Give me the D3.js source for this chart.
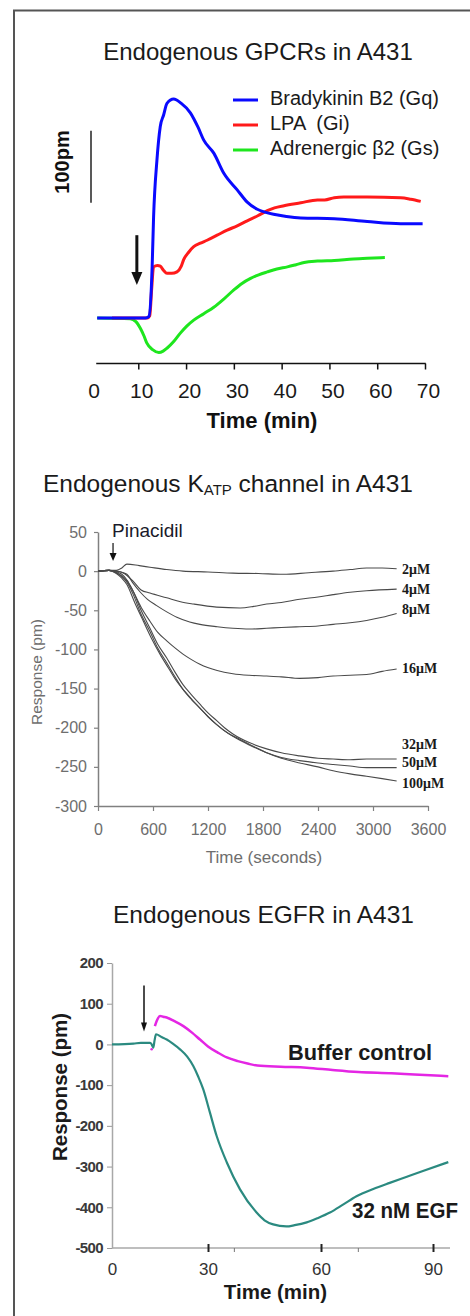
<!DOCTYPE html>
<html>
<head>
<meta charset="utf-8">
<script src="https://cdn.jsdelivr.net/npm/d3@7"></script>
<style>
  body { margin: 0; background: #fff; }
  svg { display: block; font-family: "Liberation Sans", Arial, sans-serif; }
</style>
</head>
<body>
<svg id="chart" width="470" height="1316"></svg>
<script>
// ---- panel 1: GPCRs, [time (min), response (pm)]
const gpcrTicks = [0, 10, 20, 30, 40, 50, 60, 70];
const bradykinin = [[1.4,0],[8,0],[11.5,0],[12.2,2],[12.9,71],[13.2,140],[13.9,219],[14.6,266],[15.3,282],[16,298],[17.4,304],[19,298],[20.9,285],[22.5,265],[23.7,247],[25.8,229],[27.9,201],[30.7,178],[32.8,161],[34.9,151],[36.5,147],[38.3,144],[41,141],[44,139],[51,138],[57.9,134],[64.9,131],[69.5,131]];
const lpa = [[4.5,0],[11.9,0],[12.4,3],[12.8,40],[13.2,71],[14,73],[14.6,72],[15.3,66],[16,62],[17,62],[18.1,64],[19,72],[19.5,81],[20.5,91],[21.6,99],[23,104],[24.4,108],[26.5,115],[28.6,122],[30.7,128],[32.8,135],[35,142],[37,149],[38.5,153],[40.5,156],[44,160],[47.5,164],[49,164],[51,167],[53,168],[57.9,168],[64.9,167],[67,165],[69.1,162]];
const adrenergic = [[1.4,0],[8.3,-1],[9.5,-5],[10.4,-14],[11.2,-25],[11.8,-35],[13,-44],[14.3,-48],[15.2,-46],[16,-42],[17.5,-32],[18.8,-21],[20.2,-11],[21.6,-3],[23.7,6],[25.8,15],[28,27],[30,39],[31.7,48],[33.5,55],[35.2,60],[37,64],[39,68],[41.2,71],[43,74],[44.7,77],[47.5,79],[51,80],[55,82],[57.9,83],[61.6,84]];
const gpcrNames = ["Bradykinin B2 (Gq)", "LPA  (Gi)", "Adrenergic \u03b22 (Gs)"];
const gpcrColors = ["#0a0aff", "#ff1a1a", "#1ee61e"];
const gpcrArrow = { t: 9.7, from: 115, to: 46 };
const scaleBar = [160, 260];

// ---- panel 2: KATP, [time (s), response (pm)]
const katpXTicks = [0, 600, 1200, 1800, 2400, 3000, 3600];
const katpYTicks = [-300, -250, -200, -150, -100, -50, 0, 50];
const katpLabels = ["2\u03bcM", "4\u03bcM", "8\u03bcM", "16\u03bcM", "32\u03bcM", "50\u03bcM", "100\u03bcM"];
const katpLabelY = [2, -24, -49, -124, -221, -245, -271];
const c2 = [[0,0],[120,1],[200,1],[260,4],[315,9],[450,7],[567,5],[750,2],[927,0],[1200,-1],[1472,-2.5],[1750,-3],[2018,-4],[2300,-2],[2563,0],[2750,2],[2930,4],[3100,4],[3258,3]];
const c4 = [[0,0],[120,1],[200,0],[270,-2],[385,-13],[470,-24],[567,-28],[750,-34],[900,-39],[1040,-42],[1295,-46],[1550,-47],[1700,-45],[1840,-42],[2000,-40],[2200,-36],[2400,-33],[2565,-30],[2750,-27],[2930,-25],[3258,-23]];
const c8 = [[0,0],[120,1],[200,0],[250,-1],[315,-4],[380,-15],[455,-26],[540,-36],[640,-44],[750,-52],[860,-59],[1000,-65],[1112,-68],[1300,-71],[1472,-73],[1650,-74],[1840,-73],[2000,-72],[2200,-71],[2400,-70],[2565,-68],[2750,-66],[2930,-63],[3100,-59],[3258,-54]];
const c16 = [[0,0],[120,1],[200,-1],[260,-4],[320,-12],[385,-26],[470,-46],[567,-64],[650,-78],[750,-89],[850,-99],[927,-106],[1020,-113],[1112,-119],[1300,-127],[1472,-131],[1650,-133],[1840,-134],[2000,-135],[2200,-137],[2400,-136],[2565,-134],[2750,-133],[2930,-132],[3100,-128],[3258,-125]];
const c32 = [[0,0],[120,1],[200,-2],[260,-6],[320,-13],[385,-26],[470,-50],[567,-73],[650,-93],[750,-111],[840,-129],[927,-145],[1020,-158],[1112,-170],[1200,-181],[1295,-191],[1380,-200],[1472,-208],[1650,-219],[1840,-227],[2000,-232],[2200,-236],[2400,-239],[2565,-240],[2750,-241],[2930,-240],[3100,-240],[3258,-240]];
const c50 = [[0,0],[120,1],[200,-2],[260,-7],[320,-15],[385,-30],[470,-55],[567,-77],[650,-98],[750,-117],[840,-135],[927,-151],[1020,-164],[1112,-175],[1200,-186],[1295,-196],[1380,-204],[1472,-211],[1650,-222],[1840,-232],[2000,-238],[2200,-242],[2400,-245],[2565,-247],[2750,-249],[2930,-251],[3100,-251],[3258,-251]];
const c100 = [[0,0],[120,1],[200,-3],[260,-9],[315,-17],[400,-40],[495,-64],[580,-85],[676,-106],[770,-124],[860,-141],[950,-154],[1040,-166],[1170,-182],[1295,-196],[1420,-207],[1550,-215],[1700,-224],[1840,-232],[2000,-239],[2200,-245],[2400,-250],[2565,-255],[2750,-259],[2930,-262],[3100,-265],[3258,-268]];
const pinacidilArrow = { t: 164, from: 36, to: 13 };

// ---- panel 3: EGFR, [time (min), response (pm)]
const egfrXTicks = [0, 30, 60, 90];
const egfrMinorTicks = [37, 70];
const egfrYTicks = [-500, -400, -300, -200, -100, 0, 100, 200];
const egf = [[0,0],[6.7,2],[9,4],[11.9,4],[12.4,0],[12.9,-8],[13.3,10],[13.75,25],[15.5,18],[17.1,12],[19,2],[21.25,-12],[23.5,-30],[25.4,-53],[27,-80],[28.5,-110],[30.5,-167],[32.3,-225],[35,-290],[38.5,-356],[42.9,-413],[45,-432],[47.3,-442],[50.8,-447],[53,-444],[56.2,-437],[59,-427],[62.4,-413],[66,-393],[69.5,-373],[74,-355],[78.4,-340],[83,-325],[87.3,-311],[94.1,-289]];
const buffer = [[13.4,45],[14,58],[15,70],[16,68],[17.1,66],[19.5,57],[22.3,45],[25,29],[27.5,12],[30,-5],[32.6,-20],[35,-32],[37.9,-41],[40.5,-47],[43.1,-52],[49.3,-55],[56.2,-57],[63.1,-63],[70,-68],[78.9,-71],[85,-74],[94.1,-78]];
const bufferDot = [12.4, -12];
const egfArrow = { t: 10, from: 145, to: 32 };

const svg = d3.select("#chart");
svg.append("rect").attr("width", 470).attr("height", 1316).attr("fill", "#fff");

// frame (top + left edge only)
svg.append("path").attr("d", "M14,1316V10.5H470").attr("fill", "none")
  .attr("stroke", "#555").attr("stroke-width", 2);

function arrow(g, x, y0, y1, w, hl, sw) {
  g.append("line").attr("x1", x).attr("x2", x).attr("y1", y0).attr("y2", y1 - hl + 1)
    .attr("stroke", "#111").attr("stroke-width", sw);
  g.append("path").attr("d", `M${x - w / 2},${y1 - hl}L${x + w / 2},${y1 - hl}L${x},${y1}Z`).attr("fill", "#111");
}

// ================= panel 1 =================
const x1 = d3.scaleLinear().domain([0, 70]).range([90.5, 425]);
const y1 = d3.scaleLinear().domain([0, 100]).range([318, 246]);
const line1 = d3.line().x(d => x1(d[0])).y(d => y1(d[1])).curve(d3.curveMonotoneX);

svg.append("text").attr("x", 258).attr("y", 60).attr("text-anchor", "middle")
  .attr("font-size", 24).attr("fill", "#1a1a1a").text("Endogenous GPCRs in A431");

const ax1 = svg.append("g").attr("transform", "translate(0,363.5)")
  .call(d3.axisBottom(x1).tickValues(gpcrTicks).tickSize(6).tickPadding(14).tickFormat(d => d));
ax1.select(".domain").remove();
ax1.selectAll(".tick line").attr("stroke", "#111").attr("stroke-width", 1.5).filter(d => d === 0).remove();
ax1.selectAll(".tick text").attr("font-size", 21).attr("fill", "#1a1a1a").attr("dx", 3)
  .attr("font-family", "Liberation Sans, Arial, sans-serif");
ax1.append("line").attr("x1", x1(1.2)).attr("x2", x1(70) + 0.75).attr("stroke", "#111").attr("stroke-width", 1.5);

svg.append("text").attr("x", 262).attr("y", 428).attr("text-anchor", "middle")
  .attr("font-size", 22).attr("font-weight", "bold").attr("fill", "#111").text("Time (min)");

// scale bar
svg.append("line").attr("x1", 91).attr("x2", 91).attr("y1", y1(scaleBar[0])).attr("y2", y1(scaleBar[1]))
  .attr("stroke", "#222").attr("stroke-width", 1.5);
svg.append("text").attr("transform", "translate(69,162) rotate(-90)").attr("text-anchor", "middle")
  .attr("font-size", 20).attr("font-weight", "bold").attr("fill", "#111").text("100pm");

[bradykinin, lpa, adrenergic].map((s, i) => [s, i]).reverse().forEach(([s, i]) => {
  svg.append("path").datum(s).attr("d", line1).attr("fill", "none")
    .attr("stroke", gpcrColors[i]).attr("stroke-width", 3).attr("stroke-linejoin", "round");
});

arrow(svg, x1(gpcrArrow.t), y1(gpcrArrow.from), y1(gpcrArrow.to), 11, 13, 3);

const leg = svg.append("g");
gpcrNames.forEach((n, i) => {
  const yy = 100 + i * 25;
  leg.append("line").attr("x1", 233).attr("x2", 258).attr("y1", yy).attr("y2", yy)
    .attr("stroke", gpcrColors[i]).attr("stroke-width", 3);
  leg.append("text").attr("x", 270).attr("y", yy + 5).attr("font-size", 20).attr("fill", "#1a1a1a")
    .style("white-space", "pre").text(n);
});

// ================= panel 2 =================
const x2 = d3.scaleLinear().domain([0, 3600]).range([98, 428]);
const y2 = d3.scaleLinear().domain([-300, 50]).range([806, 532]);
const line2 = d3.line().x(d => x2(d[0])).y(d => y2(d[1])).curve(d3.curveMonotoneX);

const t2 = svg.append("text").attr("x", 43).attr("y", 492).attr("font-size", 24.5).attr("fill", "#1a1a1a");
t2.append("tspan").text("Endogenous K");
t2.append("tspan").attr("font-size", 15).attr("dy", 3).text("ATP");
t2.append("tspan").attr("dy", -3).text(" channel in A431");

const ay2 = svg.append("g").attr("transform", "translate(98,0)")
  .call(d3.axisLeft(y2).tickValues(katpYTicks).tickSize(4).tickSizeOuter(0).tickPadding(7).tickFormat(d => String(d)));
const ax2 = svg.append("g").attr("transform", "translate(0,806)")
  .call(d3.axisBottom(x2).tickValues(katpXTicks).tickSize(5).tickSizeOuter(0).tickPadding(13).tickFormat(d => String(d)));
[ay2, ax2].forEach(a => {
  a.select(".domain").attr("stroke", "#808080").attr("stroke-width", 1.5);
  a.selectAll(".tick line").attr("stroke", "#808080").attr("stroke-width", 1.2);
  a.selectAll(".tick text").attr("font-size", 16).attr("fill", "#6e6e6e")
    .attr("font-family", "Liberation Sans, Arial, sans-serif");
});

svg.append("text").attr("x", 264).attr("y", 863).attr("text-anchor", "middle")
  .attr("font-size", 17).attr("fill", "#6e6e6e").text("Time (seconds)");
svg.append("text").attr("transform", "translate(42,672) rotate(-90)").attr("text-anchor", "middle")
  .attr("font-size", 15.5).attr("fill", "#6e6e6e").text("Response (pm)");

[c2, c4, c8, c16, c32, c50, c100].forEach(s => {
  svg.append("path").datum(s).attr("d", line2).attr("fill", "none")
    .attr("stroke", "#4a4a4a").attr("stroke-width", 1.1);
});
katpLabels.forEach((l, i) => {
  svg.append("text").attr("x", 402).attr("y", y2(katpLabelY[i]) + 4.5)
    .attr("font-family", "Liberation Serif, Times New Roman, serif").attr("font-weight", "bold")
    .attr("font-size", 14).attr("fill", "#1a1a1a").text(l);
});
svg.append("text").attr("x", 112).attr("y", 537).attr("font-size", 19).attr("fill", "#1a1a2a").text("Pinacidil");
arrow(svg, x2(pinacidilArrow.t), y2(pinacidilArrow.from), y2(pinacidilArrow.to), 7, 8, 1.2);

// ================= panel 3 =================
const x3 = d3.scaleLinear().domain([0, 30, 60, 90]).range([112, 208, 321, 433]);
const y3 = d3.scaleLinear().domain([-500, 200]).range([1248, 963]);
const line3 = d3.line().x(d => x3(d[0])).y(d => y3(d[1])).curve(d3.curveMonotoneX);

svg.append("text").attr("x", 263.5).attr("y", 923).attr("text-anchor", "middle")
  .attr("font-size", 24.5).attr("fill", "#1a1a1a").text("Endogenous EGFR in A431");

const ay3 = svg.append("g").attr("transform", "translate(112,0)")
  .call(d3.axisLeft(y3).tickValues(egfrYTicks).tickSize(5).tickSizeOuter(0).tickPadding(4).tickFormat(d => String(d)));
ay3.select(".domain").attr("stroke", "#a8a8a8").attr("stroke-width", 1.5);
ay3.selectAll(".tick line").attr("stroke", "#999");
ay3.selectAll(".tick text").attr("font-size", 15).attr("font-weight", "bold").attr("fill", "#3a3a3a")
  .attr("letter-spacing", -0.6).attr("font-family", "Liberation Sans, Arial, sans-serif");

const ax3 = svg.append("g").attr("transform", "translate(0,1248)")
  .call(d3.axisBottom(x3).tickValues(egfrXTicks).tickSize(4).tickPadding(11).tickFormat(d => String(d)));
ax3.select(".domain").remove();
ax3.insert("line", ":first-child").attr("x1", 112).attr("x2", 450).attr("stroke", "#a8a8a8").attr("stroke-width", 1.5);
ax3.selectAll(".tick line").attr("y1", -4).attr("stroke", "#222").attr("stroke-width", 2).filter(d => d === 0).remove();
ax3.selectAll(".tick text").attr("font-size", 17).attr("fill", "#333")
  .attr("font-family", "Liberation Sans, Arial, sans-serif");
egfrMinorTicks.forEach(t => {
  ax3.append("line").attr("x1", x3(t)).attr("x2", x3(t)).attr("y1", 0).attr("y2", 4).attr("stroke", "#777");
});

svg.append("text").attr("x", 275.5).attr("y", 1299).attr("text-anchor", "middle")
  .attr("font-size", 20.5).attr("font-weight", "bold").attr("fill", "#1a1a1a").text("Time (min)");
svg.append("text").attr("transform", "translate(67,1087) rotate(-90)").attr("text-anchor", "middle")
  .attr("font-size", 20.5).attr("font-weight", "bold").attr("fill", "#1a1a1a").text("Response (pm)");

svg.append("path").datum(buffer).attr("d", line3).attr("fill", "none")
  .attr("stroke", "#e426e4").attr("stroke-width", 2.5);
svg.append("circle").attr("cx", x3(bufferDot[0])).attr("cy", y3(bufferDot[1])).attr("r", 1.3).attr("fill", "#e426e4");
svg.append("path").datum(egf).attr("d", line3).attr("fill", "none")
  .attr("stroke", "#2b8a80").attr("stroke-width", 2.2);

arrow(svg, x3(egfArrow.t), y3(egfArrow.from), y3(egfArrow.to), 6, 9, 1.5);

svg.append("text").attr("x", 288).attr("y", 1060).attr("font-size", 22.5).attr("font-weight", "bold")
  .attr("fill", "#1a1a1a").attr("textLength", 144).attr("lengthAdjust", "spacingAndGlyphs").text("Buffer control");
svg.append("text").attr("x", 352).attr("y", 1218).attr("font-size", 22).attr("font-weight", "bold")
  .attr("fill", "#1a1a1a").attr("textLength", 106).attr("lengthAdjust", "spacingAndGlyphs").text("32 nM EGF");
</script>
</body>
</html>
